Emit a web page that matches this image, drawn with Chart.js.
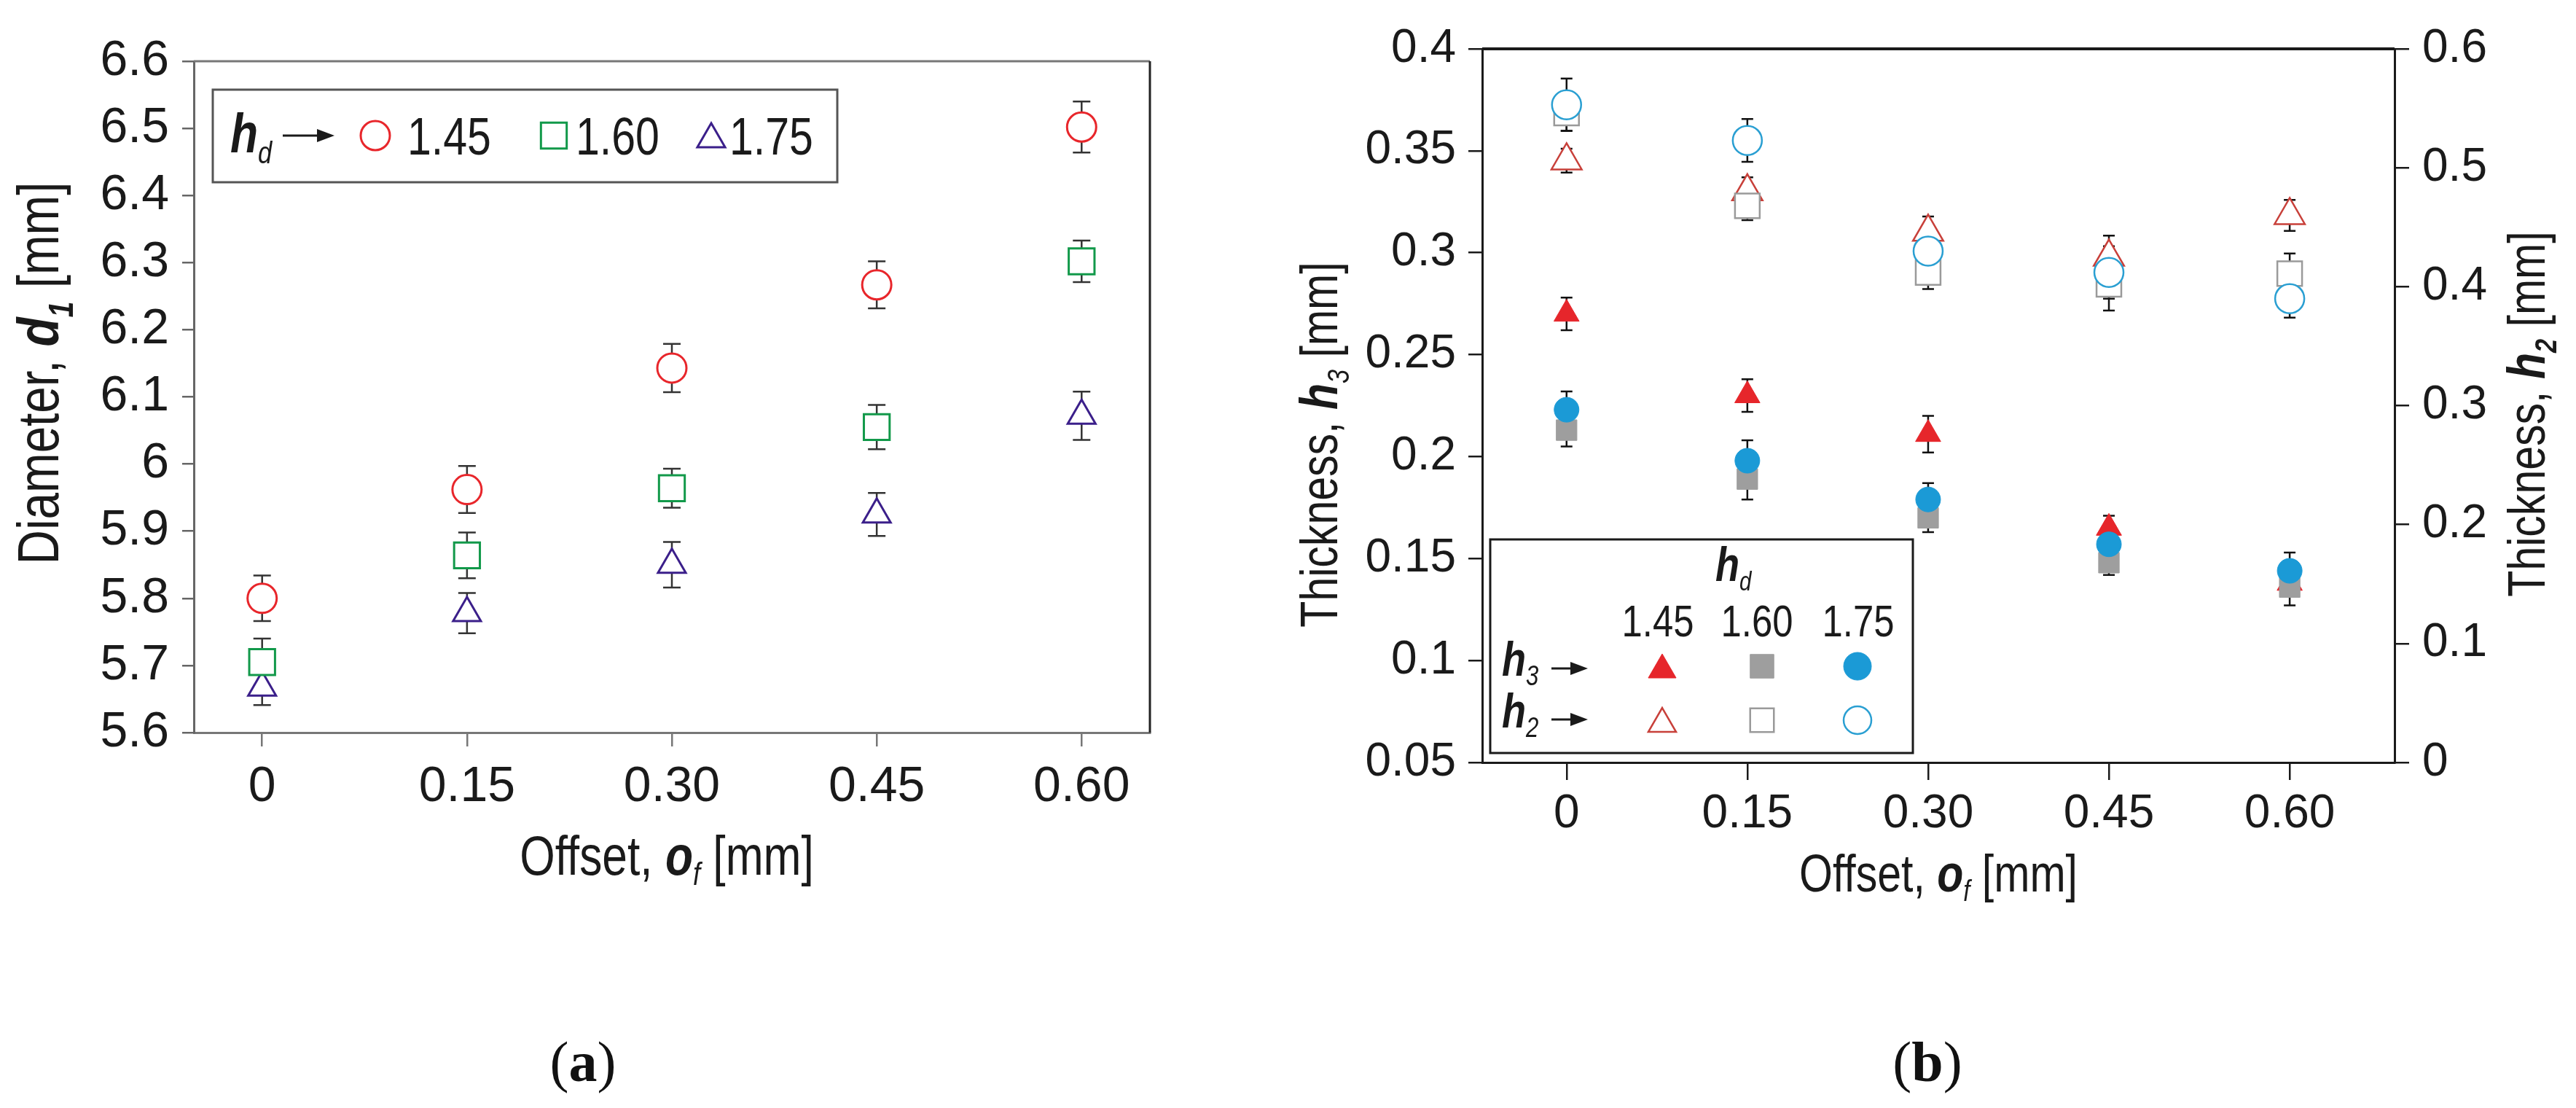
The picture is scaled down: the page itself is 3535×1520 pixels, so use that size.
<!DOCTYPE html>
<html>
<head>
<meta charset="utf-8">
<script src="https://cdn.jsdelivr.net/npm/chart.js@4.4.0/dist/chart.umd.min.js"></script>
<style>
  html, body { margin: 0; padding: 0; background: #fff; }
  body { width: 3535px; height: 1520px; position: relative; overflow: hidden; }
  .panel { position: absolute; top: 0; height: 1300px; }
  #panel-a { left: 0; width: 1700px; }
  #panel-b { left: 1700px; width: 1835px; }
  .caption {
    position: absolute; top: 1418px; line-height: 78px;
    font-family: 'Liberation Serif', 'Times New Roman', serif; font-size: 78px; color: #111;
    transform: translateX(-50%);
  }
</style>
</head>
<body>
<div class="panel" id="panel-a"><canvas id="diameter-chart"></canvas></div>
<div class="panel" id="panel-b"><canvas id="thickness-chart"></canvas></div>
<div class="caption" style="left:800px">(<b>a</b>)</div>
<div class="caption" style="left:2645px">(<b>b</b>)</div>
<script>
// shared x values (offset o_f, mm)
const offsets = [0, 0.15, 0.30, 0.45, 0.60];
const offsetLabels = ["0", "0.15", "0.30", "0.45", "0.60"];

// (a) diameter d1 [mm] per nozzle height h_d
const d1Hd145 = [5.800, 5.962, 6.143, 6.267, 6.502];
const d1Hd145Err = [0.034, 0.035, 0.036, 0.035, 0.038];
const d1Hd160 = [5.705, 5.864, 5.964, 6.055, 6.302];
const d1Hd160Err = [0.035, 0.034, 0.029, 0.033, 0.031];
const d1Hd175 = [5.667, 5.778, 5.850, 5.925, 6.072];
const d1Hd175Err = [0.026, 0.030, 0.034, 0.032, 0.036];
const d1Ticks = [5.6, 5.7, 5.8, 5.9, 6.0, 6.1, 6.2, 6.3, 6.4, 6.5, 6.6];
const d1TickLabels = ["5.6", "5.7", "5.8", "5.9", "6", "6.1", "6.2", "6.3", "6.4", "6.5", "6.6"];

// (b) thickness h3 (left axis) and h2 (right axis) [mm]
const h3Hd145 = [0.270, 0.230, 0.211, 0.165, 0.138];
const h3Hd145Err = [0.008, 0.008, 0.009, 0.006, 0.006];
const h3Hd160 = [0.213, 0.189, 0.170, 0.148, 0.136];
const h3Hd160Err = [0.008, 0.010, 0.007, 0.006, 0.009];
const h3Hd175 = [0.223, 0.198, 0.179, 0.157, 0.144];
const h3Hd175Err = [0.009, 0.010, 0.008, 0.008, 0.009];
const h2Hd145 = [0.506, 0.480, 0.446, 0.425, 0.460];
const h2Hd145Err = [0.010, 0.012, 0.013, 0.018, 0.013];
const h2Hd160 = [0.546, 0.468, 0.412, 0.402, 0.411];
const h2Hd160Err = [0.015, 0.012, 0.014, 0.022, 0.017];
const h2Hd175 = [0.553, 0.523, 0.430, 0.412, 0.390];
const h2Hd175Err = [0.022, 0.018, 0.010, 0.022, 0.016];
const h3Ticks = [0.05, 0.1, 0.15, 0.2, 0.25, 0.3, 0.35, 0.4];
const h3TickLabels = ["0.05", "0.1", "0.15", "0.2", "0.25", "0.3", "0.35", "0.4"];
const h2Ticks = [0, 0.1, 0.2, 0.3, 0.4, 0.5, 0.6];
const h2TickLabels = ["0", "0.1", "0.2", "0.3", "0.4", "0.5", "0.6"];

const SANS = "'Liberation Sans', Arial, sans-serif";
const font = (size, style) => `${style || ""} ${size}px ${SANS}`.trim();
const INK = "#1a1a1a";
// the figure uses a narrow face; squeeze our own text to match
const NARROW = 0.82;

const toPoints = (ys) => offsets.map((x, i) => ({ x, y: ys[i] }));

const series = (label, ys, errs, style, radius, color, fill, width, axis) => ({
  label,
  data: toPoints(ys),
  errors: errs,
  yAxisID: axis || "y",
  pointStyle: style,
  pointRadius: radius,
  pointHoverRadius: radius,
  pointBorderColor: color,
  pointBackgroundColor: fill,
  pointBorderWidth: width,
  pointHoverBorderWidth: width,
});

// vertical error bars, drawn under the markers
const errorBars = {
  id: "errorBars",
  beforeDatasetsDraw(chart, args, opts) {
    const ctx = chart.ctx;
    ctx.save();
    ctx.strokeStyle = opts.color;
    ctx.lineWidth = opts.lineWidth;
    chart.data.datasets.forEach((ds) => {
      if (!ds.errors) return;
      const xs = chart.scales.x;
      const ys = chart.scales[ds.yAxisID];
      ds.data.forEach((pt, j) => {
        const px = xs.getPixelForValue(pt.x);
        const top = ys.getPixelForValue(pt.y + ds.errors[j]);
        const bot = ys.getPixelForValue(pt.y - ds.errors[j]);
        ctx.beginPath();
        ctx.moveTo(px, top);
        ctx.lineTo(px, bot);
        ctx.moveTo(px - opts.cap, top);
        ctx.lineTo(px + opts.cap, top);
        ctx.moveTo(px - opts.cap, bot);
        ctx.lineTo(px + opts.cap, bot);
        ctx.stroke();
      });
    });
    ctx.restore();
  },
};

// text with mixed fonts (italic symbols, subscripts)
const drawRich = (ctx, runs, x, y, rotation, align) => {
  ctx.save();
  ctx.translate(x, y);
  ctx.rotate(rotation || 0);
  ctx.scale(NARROW, 1);
  ctx.textBaseline = "alphabetic";
  ctx.textAlign = "left";
  ctx.fillStyle = INK;
  let total = 0;
  runs.forEach((r) => {
    ctx.font = r.font;
    total += ctx.measureText(r.text).width;
  });
  let cx = align === "left" ? 0 : -total / 2;
  runs.forEach((r) => {
    ctx.font = r.font;
    ctx.fillText(r.text, cx, r.dy || 0);
    cx += ctx.measureText(r.text).width;
  });
  ctx.restore();
};

// frame lines, axis titles and the in-plot keys
const figureText = {
  id: "figureText",
  afterDraw(chart, args, opts) {
    const ctx = chart.ctx;
    const area = chart.chartArea;
    ctx.save();
    (opts.frame || []).forEach((f) => {
      ctx.strokeStyle = f.color;
      ctx.lineWidth = f.width;
      ctx.beginPath();
      if (f.side === "top") {
        ctx.moveTo(area.left, area.top);
        ctx.lineTo(area.right, area.top);
      } else {
        ctx.moveTo(area.right, area.top);
        ctx.lineTo(area.right, area.bottom);
      }
      ctx.stroke();
    });
    (opts.items || []).forEach((it) => {
      if (it.type === "rich") {
        drawRich(ctx, it.runs, it.x, it.y, it.rotation, it.align);
      } else if (it.type === "box") {
        ctx.strokeStyle = it.color;
        ctx.lineWidth = it.width;
        ctx.fillStyle = "#fff";
        ctx.fillRect(it.x, it.y, it.w, it.h);
        ctx.strokeRect(it.x, it.y, it.w, it.h);
      } else if (it.type === "arrow") {
        ctx.strokeStyle = INK;
        ctx.fillStyle = INK;
        ctx.lineWidth = 3;
        ctx.beginPath();
        ctx.moveTo(it.x1, it.y);
        ctx.lineTo(it.x2 - 18, it.y);
        ctx.stroke();
        ctx.beginPath();
        ctx.moveTo(it.x2, it.y);
        ctx.lineTo(it.x2 - 24, it.y - 9);
        ctx.lineTo(it.x2 - 24, it.y + 9);
        ctx.closePath();
        ctx.fill();
      } else if (it.type === "marker") {
        const ds = chart.data.datasets[it.dataset];
        ctx.strokeStyle = ds.pointBorderColor;
        ctx.fillStyle = ds.pointBackgroundColor;
        ctx.lineWidth = ds.pointBorderWidth;
        Chart.helpers.drawPoint(ctx, {
          pointStyle: ds.pointStyle,
          radius: it.radius || ds.pointRadius,
          rotation: 0,
          borderWidth: ds.pointBorderWidth,
        }, it.x, it.y);
      }
    });
    ctx.restore();
  },
};

const fixedTicks = (values) => (scale) => {
  scale.ticks = values.map((v) => ({ value: v }));
};

const axisBase = (tickLen, pad, size, borderColor) => ({
  type: "linear",
  ticks: { font: { family: SANS, size }, color: INK, padding: pad, autoSkip: false, maxRotation: 0 },
  grid: { drawOnChartArea: false, drawTicks: true, tickLength: tickLen, color: borderColor, lineWidth: 2.5 },
  border: { display: true, color: borderColor, width: 3 },
});

// ---------- (a) diameter ----------
const diamCtx = document.getElementById("diameter-chart").getContext("2d");
const diamX = axisBase(19, 15, 68, "#777");
const diamY = axisBase(16, 18, 68, "#666");

new Chart(diamCtx, {
  type: "scatter",
  data: {
    datasets: [
      series("1.45", d1Hd145, d1Hd145Err, "circle", 20, "#e8262b", "#fff", 3),
      series("1.60", d1Hd160, d1Hd160Err, "rect", 25, "#12994a", "#fff", 3),
      series("1.75", d1Hd175, d1Hd175Err, "triangle", 22, "#3b1f8a", "#fff", 3),
    ],
  },
  options: {
    responsive: true,
    maintainAspectRatio: false,
    animation: false,
    devicePixelRatio: 1,
    events: [],
    layout: { padding: { top: 84, right: 122, left: 0, bottom: 0 } },
    plugins: {
      legend: { display: false },
      tooltip: { enabled: false },
      errorBars: { color: "#333", lineWidth: 2.5, cap: 12 },
      figureText: {
        frame: [
          { side: "top", color: "#777", width: 3 },
          { side: "right", color: "#222", width: 3 },
        ],
        items: [
          { type: "rich", x: 80, y: 512, rotation: -Math.PI / 2, runs: [
            { text: "Diameter, ", font: font(80) },
            { text: "d", font: font(80, "italic bold") },
            { text: "1", font: font(48, "italic bold"), dy: 20 },
            { text: " [mm]", font: font(80) },
          ] },
          { type: "rich", x: 915, y: 1200, runs: [
            { text: "Offset, ", font: font(76) },
            { text: "o", font: font(76, "italic bold") },
            { text: "f", font: font(44, "italic"), dy: 14 },
            { text: " [mm]", font: font(76) },
          ] },
          { type: "box", x: 292, y: 123, w: 857, h: 127, color: "#555", width: 3 },
          { type: "rich", x: 316, y: 209, align: "left", runs: [
            { text: "h", font: font(76, "italic bold") },
            { text: "d", font: font(42, "italic"), dy: 15 },
          ] },
          { type: "arrow", x1: 388, x2: 459, y: 186 },
          { type: "marker", dataset: 0, x: 515, y: 186 },
          { type: "rich", x: 559, y: 212, align: "left", runs: [{ text: "1.45", font: font(72) }] },
          { type: "marker", dataset: 1, x: 760, y: 186 },
          { type: "rich", x: 790, y: 212, align: "left", runs: [{ text: "1.60", font: font(72) }] },
          { type: "marker", dataset: 2, x: 976, y: 191 },
          { type: "rich", x: 1001, y: 212, align: "left", runs: [{ text: "1.75", font: font(72) }] },
        ],
      },
    },
    scales: {
      x: {
        ...diamX,
        min: -0.05,
        max: 0.65,
        afterBuildTicks: fixedTicks(offsets),
        afterFit: (s) => { s.height = 295; },
        ticks: { ...diamX.ticks, callback: (v, i) => offsetLabels[i] },
      },
      y: {
        ...diamY,
        min: 5.6,
        max: 6.6,
        afterBuildTicks: fixedTicks(d1Ticks),
        afterFit: (s) => { s.width = 266; },
        ticks: { ...diamY.ticks, callback: (v, i) => d1TickLabels[i] },
      },
    },
  },
  plugins: [errorBars, figureText],
});

// ---------- (b) thickness ----------
const thickCtx = document.getElementById("thickness-chart").getContext("2d");
const thickX = axisBase(24, 9, 64, INK);
const thickY = axisBase(19, 17, 64, INK);
const thickY2 = axisBase(20, 18, 64, INK);

new Chart(thickCtx, {
  type: "scatter",
  data: {
    datasets: [
      series("h2 1.75", h2Hd175, h2Hd175Err, "circle", 20, "#2a9fd2", "#fff", 2.5, "y2"),
      series("h2 1.60", h2Hd160, h2Hd160Err, "rect", 24, "#9a9a9a", "#fff", 2.5, "y2"),
      series("h2 1.45", h2Hd145, h2Hd145Err, "triangle", 24, "#c8403a", "#fff", 2.5, "y2"),
      series("h3 1.75", h3Hd175, h3Hd175Err, "circle", 17, "#1b9ad6", "#1b9ad6", 1, "y"),
      series("h3 1.60", h3Hd160, h3Hd160Err, "rect", 20, "#9e9e9e", "#9e9e9e", 1, "y"),
      series("h3 1.45", h3Hd145, h3Hd145Err, "triangle", 20, "#e6262b", "#e6262b", 1, "y"),
    ],
  },
  options: {
    responsive: true,
    maintainAspectRatio: false,
    animation: false,
    devicePixelRatio: 1,
    events: [],
    layout: { padding: { top: 67, right: 0, left: 0, bottom: 0 } },
    plugins: {
      legend: { display: false },
      tooltip: { enabled: false },
      errorBars: { color: "#111", lineWidth: 2.5, cap: 8 },
      figureText: {
        frame: [{ side: "top", color: INK, width: 4 }],
        items: [
          { type: "rich", x: 135, y: 610, rotation: -Math.PI / 2, runs: [
            { text: "Thickness, ", font: font(72) },
            { text: "h", font: font(72, "italic bold") },
            { text: "3", font: font(42, "italic"), dy: 16 },
            { text: " [mm]", font: font(72) },
          ] },
          { type: "rich", x: 1792, y: 568, rotation: -Math.PI / 2, runs: [
            { text: "Thickness, ", font: font(72) },
            { text: "h", font: font(72, "italic bold") },
            { text: "2", font: font(42, "italic bold"), dy: 16 },
            { text: " [mm]", font: font(72) },
          ] },
          { type: "rich", x: 960, y: 1223, runs: [
            { text: "Offset, ", font: font(72) },
            { text: "o", font: font(72, "italic bold") },
            { text: "f", font: font(40, "italic"), dy: 13 },
            { text: " [mm]", font: font(72) },
          ] },
          { type: "box", x: 345, y: 740, w: 580, h: 293, color: INK, width: 3 },
          { type: "rich", x: 654, y: 797, align: "left", runs: [
            { text: "h", font: font(66, "italic bold") },
            { text: "d", font: font(36, "italic"), dy: 13 },
          ] },
          { type: "rich", x: 575, y: 873, runs: [{ text: "1.45", font: font(62) }] },
          { type: "rich", x: 711, y: 873, runs: [{ text: "1.60", font: font(62) }] },
          { type: "rich", x: 850, y: 873, runs: [{ text: "1.75", font: font(62) }] },
          { type: "rich", x: 361, y: 927, align: "left", runs: [
            { text: "h", font: font(66, "italic bold") },
            { text: "3", font: font(38, "italic"), dy: 13 },
          ] },
          { type: "arrow", x1: 429, x2: 479, y: 917 },
          { type: "marker", dataset: 5, x: 581, y: 919, radius: 22 },
          { type: "marker", dataset: 4, x: 718, y: 914, radius: 23 },
          { type: "marker", dataset: 3, x: 849, y: 914, radius: 19 },
          { type: "rich", x: 361, y: 998, align: "left", runs: [
            { text: "h", font: font(66, "italic bold") },
            { text: "2", font: font(38, "italic"), dy: 13 },
          ] },
          { type: "arrow", x1: 429, x2: 479, y: 987 },
          { type: "marker", dataset: 2, x: 581, y: 993, radius: 22 },
          { type: "marker", dataset: 1, x: 718, y: 988, radius: 23 },
          { type: "marker", dataset: 0, x: 849, y: 988, radius: 19 },
        ],
      },
    },
    scales: {
      x: {
        ...thickX,
        min: -0.07,
        max: 0.687,
        afterBuildTicks: fixedTicks(offsets),
        afterFit: (s) => { s.height = 254; },
        ticks: { ...thickX.ticks, callback: (v, i) => offsetLabels[i] },
      },
      y: {
        ...thickY,
        position: "left",
        min: 0.05,
        max: 0.4,
        afterBuildTicks: fixedTicks(h3Ticks),
        afterFit: (s) => { s.width = 334; },
        ticks: { ...thickY.ticks, callback: (v, i) => h3TickLabels[i] },
      },
      y2: {
        ...thickY2,
        position: "right",
        min: 0,
        max: 0.6,
        afterBuildTicks: fixedTicks(h2Ticks),
        afterFit: (s) => { s.width = 249; },
        ticks: { ...thickY2.ticks, callback: (v, i) => h2TickLabels[i] },
      },
    },
  },
  plugins: [errorBars, figureText],
});
</script>
</body>
</html>
